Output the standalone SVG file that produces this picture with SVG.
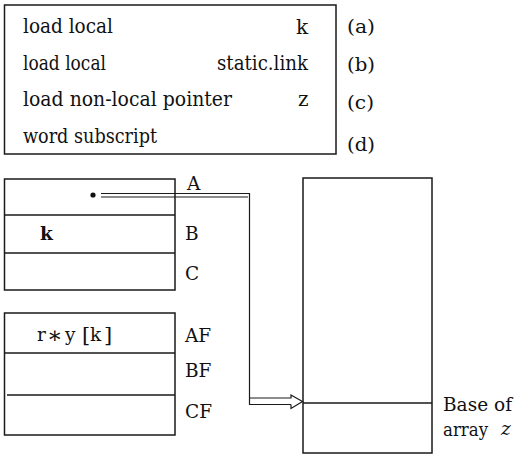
<svg xmlns="http://www.w3.org/2000/svg" width="516" height="455" viewBox="0 0 516 455">
  <style>
    .box { fill: none; stroke: #1a1a1a; stroke-width: 1.5; }
    .rule { stroke: #1a1a1a; stroke-width: 1.4; fill: none; }
    .pipe { stroke: #1a1a1a; stroke-width: 1.2; fill: none; }
    .t { font-family: "DejaVu Serif", "Liberation Serif", serif; font-size: 18.5px; fill: #111; }
    .code { font-size: 20px; }
  </style>
  <rect width="516" height="455" fill="#fff"/>

  <!-- instruction sequence -->
  <g id="code">
    <rect class="box" x="4.5" y="5" width="331.5" height="149"/>
    <text class="t code" x="23" y="33" textLength="90" lengthAdjust="spacingAndGlyphs">load local</text>
    <text class="t code" x="296" y="34">k</text>
    <text class="t code" x="23" y="70" textLength="83" lengthAdjust="spacingAndGlyphs">load local</text>
    <text class="t code" x="217" y="70" textLength="91" lengthAdjust="spacingAndGlyphs">static.link</text>
    <text class="t code" x="23" y="106" textLength="209" lengthAdjust="spacingAndGlyphs">load non-local pointer</text>
    <text class="t code" x="298" y="106">z</text>
    <text class="t code" x="23" y="143" textLength="134" lengthAdjust="spacingAndGlyphs">word subscript</text>
  </g>
  <g id="steps">
    <text class="t" x="347" y="33" textLength="28" lengthAdjust="spacingAndGlyphs">(a)</text>
    <text class="t" x="347" y="71" textLength="28" lengthAdjust="spacingAndGlyphs">(b)</text>
    <text class="t" x="347" y="109" textLength="27" lengthAdjust="spacingAndGlyphs">(c)</text>
    <text class="t" x="347" y="151" textLength="28" lengthAdjust="spacingAndGlyphs">(d)</text>
  </g>

  <!-- register stack -->
  <g id="registers">
    <rect class="box" x="4.5" y="179" width="170.5" height="111"/>
    <line class="rule" x1="4.5" y1="215" x2="175" y2="215"/>
    <line class="rule" x1="4.5" y1="253" x2="175" y2="253"/>
    <circle cx="93" cy="195" r="2.6" fill="#111"/>
    <text class="t" x="40" y="240" font-weight="bold">k</text>
    <text class="t" x="187" y="190">A</text>
    <text class="t" x="185" y="240">B</text>
    <text class="t" x="185" y="280">C</text>
  </g>

  <!-- floating-point register stack -->
  <g id="float-registers">
    <rect class="box" x="4.5" y="313" width="170.5" height="122"/>
    <line class="rule" x1="4.5" y1="353" x2="175" y2="353"/>
    <line class="rule" x1="7" y1="395" x2="175" y2="395"/>
    <text class="t"><tspan x="37" y="341">r</tspan><tspan x="47" y="343" font-size="23">∗</tspan><tspan x="65" y="341">y</tspan><tspan x="82" y="342" font-size="21">[</tspan><tspan x="90" y="341">k</tspan><tspan x="104" y="342" font-size="21">]</tspan></text>
    <text class="t" x="185" y="342">AF</text>
    <text class="t" x="185" y="377">BF</text>
    <text class="t" x="185" y="418">CF</text>
  </g>

  <!-- array z in store -->
  <g id="array">
    <rect class="box" x="303" y="178" width="129" height="275"/>
    <line class="rule" x1="303" y1="403" x2="432" y2="403"/>
    <text class="t" x="443" y="411" textLength="69" lengthAdjust="spacingAndGlyphs">Base of</text>
    <text class="t" x="443" y="436" textLength="45" lengthAdjust="spacingAndGlyphs">array</text>
    <text class="t" x="501" y="435" font-size="15" font-style="italic">z</text>
  </g>

  <!-- pointer from A to base of array -->
  <g id="connectors">
    <path class="pipe" d="M101,193.5 H249.5 V404.5 H291"/>
    <path class="pipe" d="M101,197 H248"/>
    <path class="pipe" d="M249.5,398 H291 V395 L302.5,401.5 L291,408.5 V404.5"/>
  </g>
</svg>
